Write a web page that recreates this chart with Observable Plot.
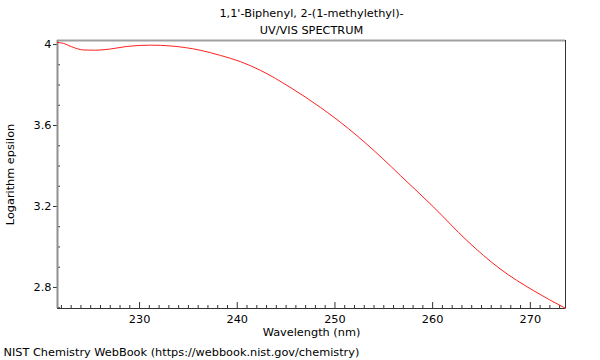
<!DOCTYPE html>
<html>
<head>
<meta charset="utf-8">
<script src="https://cdn.jsdelivr.net/npm/d3@7"></script>
<script src="https://cdn.jsdelivr.net/npm/@observablehq/plot@0.6"></script>
<style>
  html, body { margin: 0; padding: 0; background: #fff; }
  #chart { width: 600px; height: 360px; }
</style>
</head>
<body>
<div id="chart"></div>
<script>
// Spectrum data
const wavelength = [221.6, 222.2, 223.0, 224.3, 225.5, 227.0, 228.6, 231.1, 233.2, 236.2, 238.3, 240.3, 242.4, 245.4, 248.5, 251.4, 254.9, 256.7, 260.1, 263.5, 266.9, 270.3, 273.6];
const logEpsilon = [4.010, 4.006, 3.990, 3.973, 3.972, 3.978, 3.990, 3.997, 3.993, 3.972, 3.946, 3.916, 3.872, 3.789, 3.690, 3.584, 3.436, 3.353, 3.197, 3.032, 2.892, 2.785, 2.697];

const xDomain = [221.6, 273.6];
const yDomain = [2.696, 4.02];
const xMajorTicks = [230, 240, 250, 260, 270];
const xMinorTicks = d3.range(222, 274).filter(v => v % 10 !== 0);
const yMajorTicks = [2.8, 3.2, 3.6, 4.0];
const yMinorTicks = d3.range(27, 41).map(v => v / 10).filter(v => !yMajorTicks.includes(v));

const titleLines = ["1,1'-Biphenyl, 2-(1-methylethyl)-", "UV/VIS SPECTRUM"];
const xLabel = "Wavelength (nm)";
const yLabel = "Logarithm epsilon";
const caption = "NIST Chemistry WebBook (https://webbook.nist.gov/chemistry)";

const data = wavelength.map((w, i) => ({w, e: logEpsilon[i]}));

const W = 600, H = 360, mT = 40, mL = 57, mR = 35, mB = 52;
const innerW = W - mL - mR, innerH = H - mT - mB;
const FS = 11.3;

const chart = Plot.plot({
  width: W, height: H,
  marginTop: mT, marginLeft: mL, marginRight: mR, marginBottom: mB,
  style: {fontFamily: "DejaVu Sans", fontSize: FS + "px", color: "#000", background: "#fff"},
  x: {domain: xDomain},
  y: {domain: yDomain},
  marks: [
    // minor ticks (inward)
    Plot.tickX(xMinorTicks, {x: d => d, insetTop: innerH - 3, stroke: "#333"}),
    Plot.tickX(xMajorTicks, {x: d => d, insetTop: innerH - 6, stroke: "#333"}),
    Plot.tickY(yMinorTicks, {y: d => d, insetRight: innerW - 3, stroke: "#333"}),
    // axes
    Plot.axisX({ticks: xMajorTicks, tickSize: 0, tickPadding: 6, label: null, fontSize: FS, tickFormat: d => String(d)}),
    Plot.axisY({ticks: yMajorTicks, tickSize: 4, tickPadding: 2, label: null, fontSize: FS, tickFormat: d => String(d), stroke: "#333"}),
    // frame
    Plot.ruleY([yDomain[1]], {stroke: "#a0a0a0", strokeWidth: 2}),
    Plot.ruleX([xDomain[0]], {stroke: "#909090", strokeWidth: 2}),
    Plot.ruleX([xDomain[1]], {stroke: "#333"}),
    Plot.ruleY([yDomain[0]], {stroke: "#333"}),
    // spectrum
    Plot.line(data, {x: "w", y: "e", stroke: "#ff2020", strokeWidth: 1, curve: "monotone-x"}),
    // texts
    Plot.text([titleLines[0]], {text: d => d, frameAnchor: "top", lineAnchor: "middle", dy: -27, fontSize: FS, fill: "#000"}),
    Plot.text([titleLines[1]], {text: d => d, frameAnchor: "top", lineAnchor: "middle", dy: -10, fontSize: FS, fill: "#000"}),
    Plot.text([xLabel], {text: d => d, frameAnchor: "bottom", lineAnchor: "middle", dy: 24, fontSize: FS, fill: "#000"}),
    Plot.text([yLabel], {text: d => d, frameAnchor: "left", lineAnchor: "middle", textAnchor: "middle", dx: -47, rotate: -90, fontSize: FS, fill: "#000"}),
    Plot.text([caption], {text: d => d, frameAnchor: "bottom-left", lineAnchor: "middle", dx: -54, dy: 44, textAnchor: "start", fontSize: FS, fill: "#000"})
  ]
});
document.getElementById("chart").appendChild(chart);
</script>
</body>
</html>
